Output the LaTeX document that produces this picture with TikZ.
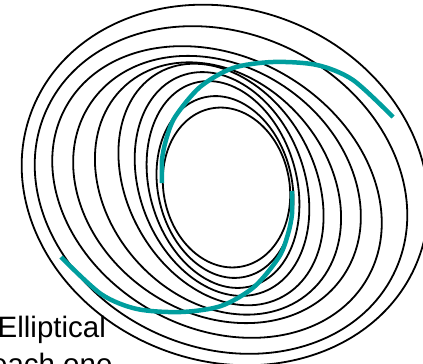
\documentclass[tikz,border=0pt]{standalone}
\usepackage{fontspec}
\setmainfont{Liberation Sans}
\usepackage{xcolor}
\usepackage{tikz}
\definecolor{armteal}{RGB}{0,158,158}
\tikzstyle{orbit} = [draw=black, line width=1.8pt]
\tikzstyle{arm} = [draw=armteal, line width=4.5pt]
\tikzstyle{caption} = [font=\fontsize{29.5}{36}\selectfont, inner sep=0pt]

\begin{document}
\begin{tikzpicture}[x=1pt, y=-1pt]
    \useasboundingbox (0,0) rectangle (423,364);
    \clip (0,0) rectangle (423,364);
    \coordinate (hub) at (227,187);

    % Nested ellipses: centre x / centre y / major radius / minor radius / tilt
    \foreach \cx/\cy/\ra/\rb/\tilt in {226.5/187.5/80.5/63/101, 225/187/92/67/103, 223/184.5/105.5/73.5/106,
            222/184/115.6/82.3/111, 221/184.5/128/93.4/119, 218/188.5/138.5/109/132,
            217/189.5/153/123/145, 217/192/173.4/135.4/150, 221/190/192/157/155, 225/185/207/176/159} {
        \draw[orbit, rotate around={\tilt:(\cx,\cy)}] (\cx,\cy) ellipse [x radius=\ra, y radius=\rb];
    }

    % Spiral arms (second one is the first turned half way round)
    \draw[arm] plot[smooth] coordinates {(162,183) (162,160) (166,140) (175,117) (200,87) (233,68) (273,62) (317,65) (353,80) (393,117)};
    \draw[arm, rotate around={180:(hub)}] plot[smooth] coordinates {(162,183) (162,160) (166,140) (175,117) (200,87) (233,68) (273,62) (317,65) (353,80) (393,117)};

    % Caption
    \node[caption, anchor=base west] (ellip) at (-2.5,337) {Elliptical};
    \node[caption, anchor=base] (each) at ([yshift=-37pt]ellip.base) {each one};
\end{tikzpicture}
\end{document}
